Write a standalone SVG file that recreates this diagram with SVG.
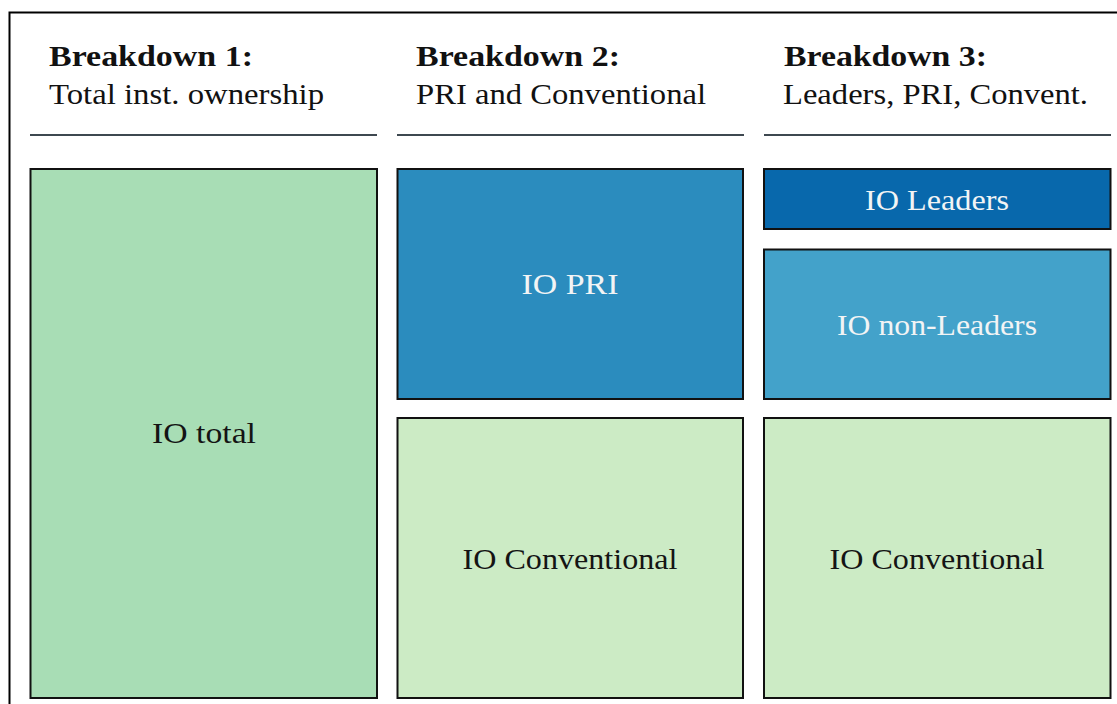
<svg xmlns="http://www.w3.org/2000/svg" width="1117" height="704" viewBox="0 0 1117 704">
<style>
  .frame{fill:none;stroke:#000;stroke-width:2}
  .rule{stroke:#3e4850;stroke-width:2.2}
  .box{stroke:#111;stroke-width:2}
  .h{font-family:'Liberation Serif','DejaVu Serif','Times New Roman',serif;font-size:29px;fill:#111}
  .hb{font-weight:bold}
  .lbl{font-family:'Liberation Serif','DejaVu Serif','Times New Roman',serif;font-size:29px;text-anchor:middle}
  .dark{fill:#141414}
  .light{fill:#f2f4f5}
</style>
<rect class="frame" x="9.5" y="12.5" width="1120" height="700"/>
<g id="headers">
  <text class="h hb" x="49" y="66" textLength="204" lengthAdjust="spacingAndGlyphs">Breakdown 1:</text>
  <text class="h" x="49" y="104" textLength="275" lengthAdjust="spacingAndGlyphs">Total inst. ownership</text>
  <text class="h hb" x="416" y="66" textLength="204" lengthAdjust="spacingAndGlyphs">Breakdown 2:</text>
  <text class="h" x="416" y="104" textLength="290" lengthAdjust="spacingAndGlyphs">PRI and Conventional</text>
  <text class="h hb" x="784" y="66" textLength="203" lengthAdjust="spacingAndGlyphs">Breakdown 3:</text>
  <text class="h" x="783" y="104" textLength="305" lengthAdjust="spacingAndGlyphs">Leaders, PRI, Convent.</text>
  <line class="rule" x1="30" y1="135" x2="377" y2="135"/>
  <line class="rule" x1="397" y1="135" x2="744" y2="135"/>
  <line class="rule" x1="764" y1="135" x2="1111" y2="135"/>
</g>
<g id="connectors"></g>
<g id="io-total">
  <rect class="box" x="30.5" y="169" width="346.5" height="529" fill="#a8ddb5"/>
  <text class="lbl dark" x="204" y="443" textLength="104" lengthAdjust="spacingAndGlyphs">IO total</text>
</g>
<g id="io-pri">
  <rect class="box" x="397.5" y="169" width="345.5" height="230" fill="#2b8cbe"/>
  <text class="lbl light" x="570" y="294" textLength="97" lengthAdjust="spacingAndGlyphs">IO PRI</text>
</g>
<g id="io-conventional-2">
  <rect class="box" x="397.5" y="418" width="345.5" height="280" fill="#ccebc5"/>
  <text class="lbl dark" x="570" y="569" textLength="215" lengthAdjust="spacingAndGlyphs">IO Conventional</text>
</g>
<g id="io-leaders">
  <rect class="box" x="764" y="169" width="346.5" height="60" fill="#0868ac"/>
  <text class="lbl light" x="937" y="210" textLength="144" lengthAdjust="spacingAndGlyphs">IO Leaders</text>
</g>
<g id="io-non-leaders">
  <rect class="box" x="764" y="249.5" width="346.5" height="149.5" fill="#43a2ca"/>
  <text class="lbl light" x="937" y="335" textLength="200" lengthAdjust="spacingAndGlyphs">IO non-Leaders</text>
</g>
<g id="io-conventional-3">
  <rect class="box" x="764" y="418" width="346.5" height="280" fill="#ccebc5"/>
  <text class="lbl dark" x="937" y="569" textLength="215" lengthAdjust="spacingAndGlyphs">IO Conventional</text>
</g>
</svg>
